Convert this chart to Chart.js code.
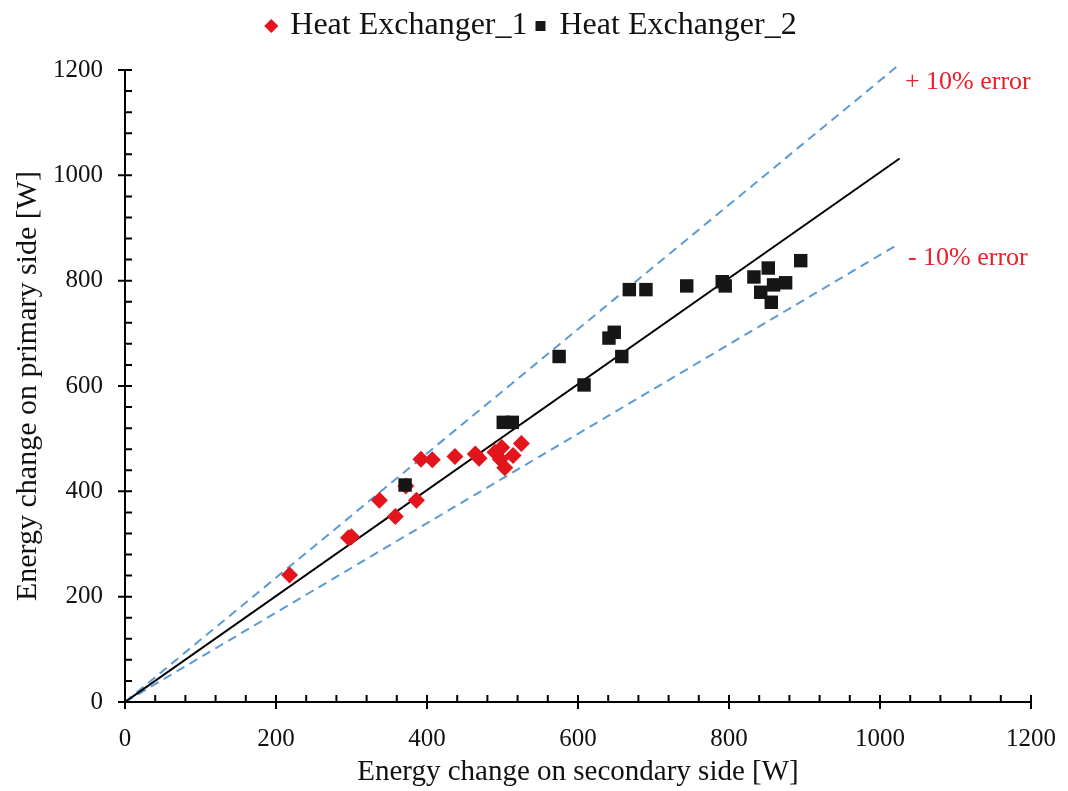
<!DOCTYPE html>
<html>
<head>
<meta charset="utf-8">
<script src="https://cdn.jsdelivr.net/npm/chart.js@4.4.0/dist/chart.umd.min.js"></script>
<style>
  html, body { margin: 0; padding: 0; background: #fff; }
  #wrap { width: 1068px; height: 791px; }
</style>
</head>
<body>
<div id="wrap"><canvas id="chart"></canvas></div>
<script>
// Heat Exchanger_1 (red diamonds): secondary side [W] vs primary side [W]
const hx1Secondary = [218, 296, 300, 358, 337, 372, 386, 392, 407, 437, 464, 469, 490, 499, 497, 503, 514, 525];
const hx1Primary   = [241, 312, 314, 352, 383, 410, 383, 461, 460, 466, 471, 463, 474, 483, 461, 445, 468, 491];

// Heat Exchanger_2 (black squares)
const hx2Secondary = [371, 501, 513, 608, 575, 658, 641, 648, 668, 690, 744, 791, 795, 833, 852, 842, 859, 875, 856, 895];
const hx2Primary   = [412, 531, 531, 602, 656, 656, 691, 702, 783, 783, 790, 798, 790, 807, 824, 778, 792, 796, 759, 838];

// reference lines (ends of each line)
const idealLineX = [0, 1026];
const idealLineY = [0, 1032];
const upperErrX  = [0, 1022];
const upperErrY  = [0, 1206];
const lowerErrX  = [0, 1025];
const lowerErrY  = [0, 870];

// axis range and ticks
const axisMin = 0;
const axisMax = 1200;
const majorStep = 200;
const minorStep = 40;

// text labels on the error lines
const errorLabels = ['+ 10% error', '- 10% error'];
const errorLabelX = [1033, 1037];
const errorLabelY = [1177, 842];

function toPoints(xs, ys) {
  return xs.map((x, i) => ({ x: x, y: ys[i] }));
}

const serif = "'Liberation Serif', 'Times New Roman', serif";

// extra space under the legend
const legendGap = {
  id: 'legendGap',
  beforeInit(chart) {
    const fit = chart.legend.fit;
    chart.legend.fit = function () {
      fit.bind(chart.legend)();
      this.height += 18;
    };
  }
};

// draws major (crossing) and minor (inside) tick marks on both axes
const tickMarks = {
  id: 'tickMarks',
  afterDraw(chart) {
    const ctx = chart.ctx;
    const xs = chart.scales.x;
    const ys = chart.scales.y;
    const x0 = xs.getPixelForValue(axisMin);
    const y0 = ys.getPixelForValue(axisMin);
    ctx.save();
    ctx.strokeStyle = '#000';
    ctx.lineWidth = 2;
    ctx.beginPath();
    for (let v = axisMin; v <= axisMax; v += minorStep) {
      const major = v % majorStep === 0;
      const px = xs.getPixelForValue(v);
      ctx.moveTo(px, y0 + (major ? 7 : 0));
      ctx.lineTo(px, y0 - 7);
      const py = ys.getPixelForValue(v);
      ctx.moveTo(x0 - (major ? 7 : 0), py);
      ctx.lineTo(x0 + 7, py);
    }
    ctx.stroke();

    // error line captions
    ctx.fillStyle = '#e8202a';
    ctx.font = '26px ' + serif;
    ctx.textBaseline = 'middle';
    ctx.textAlign = 'left';
    errorLabels.forEach((t, i) => {
      ctx.fillText(t, xs.getPixelForValue(errorLabelX[i]), ys.getPixelForValue(errorLabelY[i]));
    });
    ctx.restore();
  }
};

const ctx = document.getElementById('chart').getContext('2d');
new Chart(ctx, {
  type: 'scatter',
  data: {
    datasets: [
      {
        label: 'Heat Exchanger_1',
        data: toPoints(hx1Secondary, hx1Primary),
        pointStyle: 'rectRot',
        pointRadius: 8.5,
        backgroundColor: '#e3141b',
        borderColor: '#e3141b',
        borderWidth: 0,
        order: 1,
      },
      {
        label: 'Heat Exchanger_2',
        data: toPoints(hx2Secondary, hx2Primary),
        pointStyle: 'rect',
        pointRadius: 9.5,
        backgroundColor: '#161616',
        borderColor: '#161616',
        borderWidth: 0,
        order: 0,
      },
      {
        label: 'ideal',
        data: toPoints(idealLineX, idealLineY),
        showLine: true,
        pointRadius: 0,
        borderColor: '#000',
        borderWidth: 2,
        order: 2,
      },
      {
        label: 'upper',
        data: toPoints(upperErrX, upperErrY),
        showLine: true,
        pointRadius: 0,
        borderColor: '#5b9bd5',
        borderWidth: 2,
        borderDash: [9, 6],
        clip: false,
        order: 3,
      },
      {
        label: 'lower',
        data: toPoints(lowerErrX, lowerErrY),
        showLine: true,
        pointRadius: 0,
        borderColor: '#5b9bd5',
        borderWidth: 2,
        borderDash: [9, 6],
        order: 3,
      },
    ],
  },
  options: {
    responsive: true,
    maintainAspectRatio: false,
    animation: false,
    layout: { padding: { left: 0, right: 3, top: 0, bottom: 0 } },
    plugins: {
      tooltip: { enabled: false },
      legend: {
        position: 'top',
        labels: {
          usePointStyle: true,
          boxWidth: 6,
          boxHeight: 10,
          padding: 10,
          color: '#111',
          font: { family: serif, size: 32 },
          filter: (item) => item.datasetIndex < 2,
          sort: (a, b) => a.datasetIndex - b.datasetIndex,
        },
      },
    },
    scales: {
      x: {
        type: 'linear',
        min: axisMin,
        max: axisMax,
        afterFit: (scale) => { scale.paddingRight = 37; },
        ticks: {
          stepSize: majorStep,
          padding: 22,
          color: '#111',
          font: { family: serif, size: 25 },
          callback: (v) => String(v),
        },
        grid: { display: false, drawTicks: false },
        border: { display: true, color: '#000', width: 2 },
        title: {
          display: true,
          text: 'Energy change on secondary side [W]',
          color: '#111',
          font: { family: serif, size: 29, lineHeight: 1 },
          padding: { top: -18, bottom: 4 },
        },
      },
      y: {
        type: 'linear',
        min: axisMin,
        max: axisMax,
        ticks: {
          stepSize: majorStep,
          padding: 22,
          color: '#111',
          font: { family: serif, size: 25 },
          callback: (v) => String(v),
        },
        grid: { display: false, drawTicks: false },
        border: { display: true, color: '#000', width: 2 },
        title: {
          display: true,
          text: 'Energy change on primary side [W]',
          color: '#111',
          font: { family: serif, size: 30, lineHeight: 1 },
          padding: { top: 13, bottom: -12 },
        },
      },
    },
  },
  plugins: [legendGap, tickMarks],
});
</script>
</body>
</html>
